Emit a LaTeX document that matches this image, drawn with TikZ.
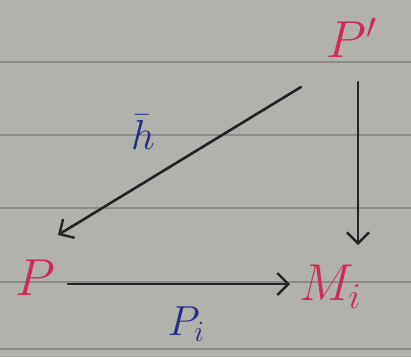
\RequirePackage{fix-cm}
\documentclass[tikz,border=0pt]{standalone}
\usetikzlibrary{arrows.meta}
\definecolor{paper}{RGB}{178,178,173}
\definecolor{rule}{RGB}{140,140,138}
\definecolor{inkred}{RGB}{205,45,85}
\definecolor{inkblue}{RGB}{40,45,135}
\definecolor{ink}{RGB}{35,35,40}
\tikzset{
  obj/.style={text=inkred, inner sep=0pt, font=\fontsize{52}{56}\selectfont},
  lbl/.style={text=inkblue, inner sep=0pt, font=\fontsize{42}{46}\selectfont},
  arr/.style={draw=ink, line width=2.6pt, line cap=round,
    -{Straight Barb[length=11pt,width=22pt,line width=2.4pt]}},
  ruleline/.style={draw=rule, line width=2pt}
}
\begin{document}
\begin{tikzpicture}[x=1pt,y=-1pt]
\fill[paper] (0,0) rectangle (411,357);
\useasboundingbox (0,0) rectangle (411,357);
\foreach \yy in {62,135,208,282,349} \draw[ruleline] (0,\yy) -- (411,\yy);
\node[obj] (Pp) at (352,38) {$P'$};
\node[obj] (P) at (35,278) {$P$};
\node[obj] (M) at (330,287) {$M_i$};
\draw[arr] ([shift={(-51,49)}]Pp.center) -- ([shift={(23,-43)}]P.center);
\draw[arr] ([shift={(6,44)}]Pp.center) -- ([shift={(28,-42)}]M.center);
\draw[arr] ([shift={(33,6)}]P.center) -- ([shift={(-40,-3)}]M.center);
\node[lbl] (h) at (143,132) {$\bar h$};
\node[lbl] (f) at (186,324) {$P_i$};
\end{tikzpicture}
\end{document}
